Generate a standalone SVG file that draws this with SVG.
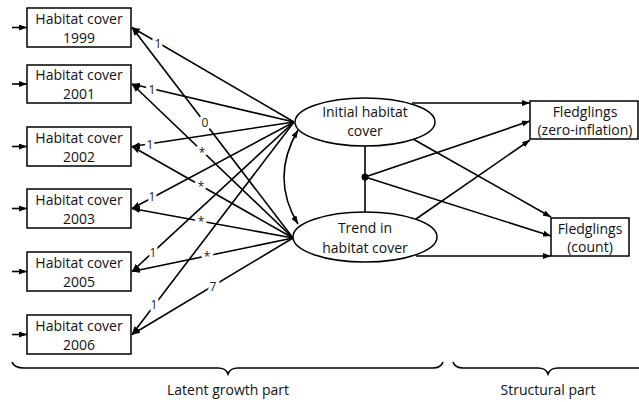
<svg xmlns="http://www.w3.org/2000/svg" width="639" height="402" viewBox="0 0 639 402">
<defs>
<marker id="ah" viewBox="0 0 8 6" refX="8" refY="3" markerWidth="8" markerHeight="6" markerUnits="userSpaceOnUse" orient="auto-start-reverse">
<path d="M0,0 L8,3 L0,6 z" fill="#000"/>
</marker>
<style>
.box{fill:#fff;stroke:#000;stroke-width:1.5}
.t{font-family:"Open Sans","Liberation Sans",sans-serif;font-size:14px;fill:#111;text-anchor:middle}
.c{fill:none;stroke:#000;stroke-width:1.6;marker-end:url(#ah)}
.l{fill:none;stroke:#000;stroke-width:1.6}
.lb{font-family:"Open Sans","Liberation Sans",sans-serif;font-size:12px;fill:#222;text-anchor:middle;stroke:#fff;stroke-width:7;paint-order:stroke;stroke-linejoin:round}
</style>
</defs>
<rect width="639" height="402" fill="#fff"/>
<g id="connectors">
<line class="c" x1="12" y1="27.5" x2="27" y2="27.5"/>
<line class="c" x1="12" y1="84" x2="27" y2="84"/>
<line class="c" x1="12" y1="146.5" x2="27" y2="146.5"/>
<line class="c" x1="12" y1="208.5" x2="27" y2="208.5"/>
<line class="c" x1="12" y1="271.5" x2="27" y2="271.5"/>
<line class="c" x1="12" y1="334.5" x2="27" y2="334.5"/>
<line class="c" x1="294" y1="122" x2="132" y2="27.5"/>
<line class="c" x1="294" y1="122" x2="132" y2="84"/>
<line class="c" x1="294" y1="122" x2="132" y2="146.5"/>
<line class="c" x1="294" y1="122" x2="132" y2="208.5"/>
<line class="c" x1="294" y1="122" x2="132" y2="271.5"/>
<line class="c" x1="294" y1="122" x2="132" y2="334.5"/>
<line class="c" x1="293" y1="238" x2="132" y2="27.5"/>
<line class="c" x1="293" y1="238" x2="132" y2="84"/>
<line class="c" x1="293" y1="238" x2="132" y2="146.5"/>
<line class="c" x1="293" y1="238" x2="132" y2="208.5"/>
<line class="c" x1="293" y1="238" x2="132" y2="271.5"/>
<line class="c" x1="293" y1="238" x2="132" y2="334.5"/>
<path class="c" d="M298,224 Q270,178 298,130" style="marker-start:url(#ah)"/>
<line class="l" x1="365" y1="146" x2="365" y2="212"/>
<circle cx="365" cy="177" r="3.5" fill="#000"/>
<line class="c" x1="412" y1="103" x2="530" y2="103"/>
<line class="c" x1="365" y1="177" x2="530" y2="121"/>
<line class="c" x1="416" y1="219" x2="530" y2="140"/>
<line class="c" x1="413" y1="139" x2="551" y2="217"/>
<line class="c" x1="365" y1="177" x2="551" y2="236"/>
<line class="c" x1="416" y1="256" x2="551" y2="256"/>
<text class="lb" x="158" y="48">1</text>
<text class="lb" x="152" y="94">1</text>
<text class="lb" x="150" y="149">1</text>
<text class="lb" x="152" y="201">1</text>
<text class="lb" x="153" y="257">1</text>
<text class="lb" x="154" y="309">1</text>
<text class="lb" x="205" y="127">0</text>
<text class="lb" x="202" y="157">*</text>
<text class="lb" x="201" y="191">*</text>
<text class="lb" x="201" y="226">*</text>
<text class="lb" x="207" y="261">*</text>
<text class="lb" x="213" y="291">7</text>
</g>
<g id="hc1999"><rect class="box" x="27" y="8" width="104" height="39"/><text class="t" x="79" y="24">Habitat cover</text><text class="t" x="79" y="43">1999</text></g>
<g id="hc2001"><rect class="box" x="27" y="65" width="104" height="38"/><text class="t" x="79" y="80">Habitat cover</text><text class="t" x="79" y="99">2001</text></g>
<g id="hc2002"><rect class="box" x="27" y="127" width="104" height="39"/><text class="t" x="79" y="143">Habitat cover</text><text class="t" x="79" y="162">2002</text></g>
<g id="hc2003"><rect class="box" x="27" y="189" width="104" height="39"/><text class="t" x="79" y="205">Habitat cover</text><text class="t" x="79" y="224">2003</text></g>
<g id="hc2005"><rect class="box" x="27" y="252" width="104" height="39"/><text class="t" x="79" y="268">Habitat cover</text><text class="t" x="79" y="287">2005</text></g>
<g id="hc2006"><rect class="box" x="27" y="315" width="104" height="39"/><text class="t" x="79" y="331">Habitat cover</text><text class="t" x="79" y="350">2006</text></g>
<g id="initial"><ellipse class="box" cx="365" cy="122" rx="70" ry="24"/><text class="t" x="365" y="117">Initial habitat</text><text class="t" x="365" y="136">cover</text></g>
<g id="trend"><ellipse class="box" cx="365" cy="237" rx="72" ry="25"/><text class="t" x="365" y="233">Trend in</text><text class="t" x="365" y="253">habitat cover</text></g>
<g id="fzero"><rect class="box" x="530" y="101" width="108" height="38"/><text class="t" x="585" y="117">Fledglings</text><text class="t" x="585" y="135">(zero-inflation)</text></g>
<g id="fcount"><rect class="box" x="551" y="218" width="78" height="38"/><text class="t" x="590" y="234">Fledglings</text><text class="t" x="590" y="252">(count)</text></g>
<g id="braces">
<path class="l" d="M12,362 Q14,368 24,368 L218,368 Q226,368 228,374 Q230,368 238,368 L433,368 Q441,368 443,362"/>
<path class="l" d="M453,362 Q455,368 463,368 L538,368 Q546,368 548,374 Q550,368 558,368 L639,368"/>
<text class="t" x="228" y="395">Latent growth part</text>
<text class="t" x="548" y="395">Structural part</text>
</g>
</svg>
